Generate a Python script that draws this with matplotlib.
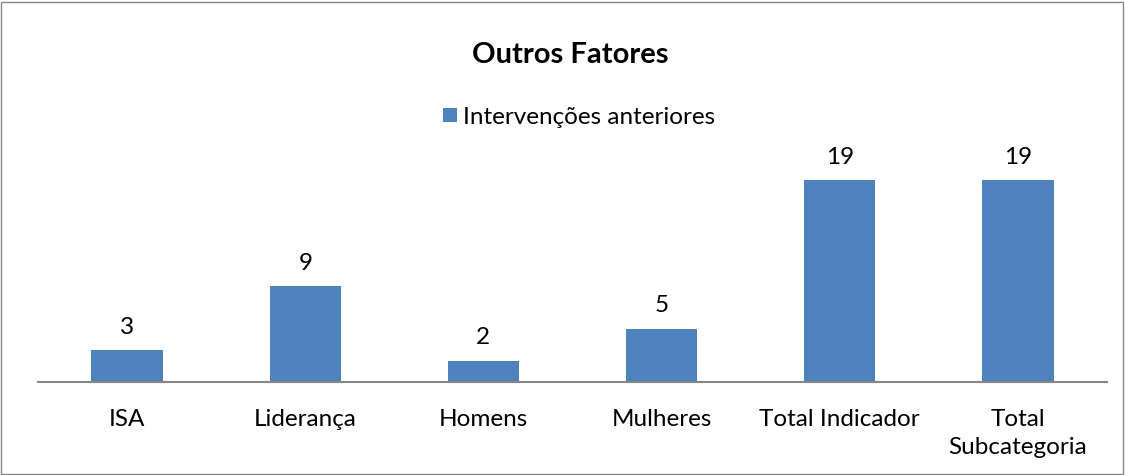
import matplotlib
matplotlib.use("Agg")
import matplotlib.pyplot as plt
from matplotlib.patches import Rectangle

categories = ["ISA", "Liderança", "Homens", "Mulheres", "Total Indicador", "Total\nSubcategoria"]
values = [3, 9, 2, 5, 19, 19]
series_name = "Intervenções anteriores"
title = "Outros Fatores"

plt.rcParams['font.family'] = ['Lato', 'DejaVu Sans']

W, H = 1125, 475
fig = plt.figure(figsize=(W / 100, H / 100), dpi=100)
fig.patch.set_facecolor("white")
fig.patches.append(Rectangle((1 / W, 1 / H), (W - 3) / W, (H - 3) / H, transform=fig.transFigure,
                             fill=False, edgecolor="#868686", linewidth=1.0))

ax_left, ax_right = 38 / W, 1107 / W
ax_bottom = (H - 382) / H
ax_top = (H - 100) / H
ax = fig.add_axes([ax_left, ax_bottom, ax_right - ax_left, ax_top - ax_bottom])

x = list(range(len(categories)))
bars = ax.bar(x, values, width=0.4, color="#4F81BD", label=series_name)
ax.set_xlim(-0.5, len(categories) - 0.5)
ax.set_ylim(0, (382 - 100) / ((382 - 180) / 19))

for spine in ["top", "right", "left"]:
    ax.spines[spine].set_visible(False)
ax.spines["bottom"].set_color("#868686")
ax.spines["bottom"].set_linewidth(1.5)
ax.set_yticks([])
ax.set_xticks(x)
ax.set_xticklabels(categories, fontsize=17.5, color="black", linespacing=1.4)
ax.tick_params(axis="x", length=0, pad=19.5)

for b, v in zip(bars, values):
    ax.annotate(str(v), (b.get_x() + b.get_width() / 2, v), xytext=(0, 9), textcoords="offset points",
                ha="center", va="bottom", fontsize=17.5)

fig.text(570 / W, 1 - 55 / H, title, ha="center", va="center", fontsize=21, fontweight="bold")
leg = fig.legend(handles=[bars], labels=[series_name], loc="center", bbox_to_anchor=(579 / W, 1 - 117 / H),
                 frameon=False, fontsize=17.5, handlelength=0.55, handleheight=0.55, handletextpad=0.25)

fig.savefig("out.png", dpi=100)
